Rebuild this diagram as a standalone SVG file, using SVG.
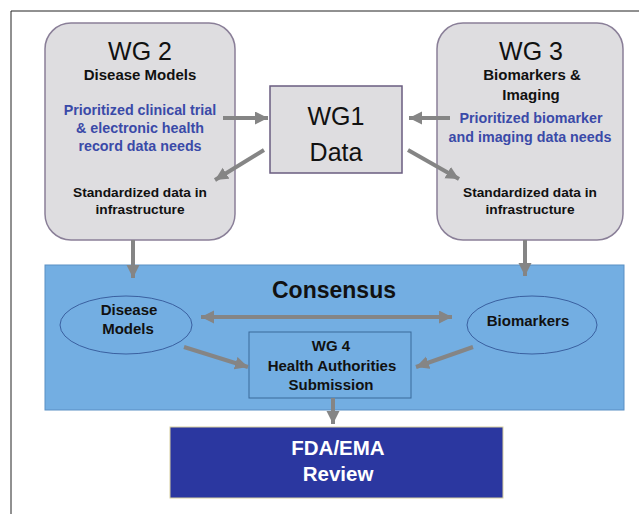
<svg xmlns="http://www.w3.org/2000/svg" width="639" height="514" viewBox="0 0 639 514">
<style>
text{font-family:"Liberation Sans",Arial,sans-serif;font-weight:bold;text-anchor:middle;fill:#111}
.big{font-size:25px;font-weight:normal}
.t{font-size:15px}
.s{font-size:13.7px}
.b{fill:#3a4aa8;font-size:14.3px}
.w{fill:#fff;font-size:20.5px}
.wg{fill:#dedde0;stroke:#8a7f98;stroke-width:1.5}
.c{stroke:#858585;stroke-width:4;fill:none;marker-end:url(#ah)}
</style>
<defs>
<marker id="ah" markerUnits="userSpaceOnUse" markerWidth="16" markerHeight="14" refX="13" refY="6.5" orient="auto-start-reverse" viewBox="0 0 16 14">
<path d="M0,0 L13,6.5 L0,13 Z" fill="#858585"/>
</marker>
</defs>
<rect x="0" y="0" width="639" height="514" fill="#fff"/>
<path d="M11,514 V11 H639" fill="none" stroke="#222" stroke-width="1"/>
<g id="wg2">
<rect class="wg" x="45" y="23" width="190" height="217" rx="26"/>
<text class="big" x="140" y="60">WG 2</text>
<text class="t" x="140" y="80">Disease Models</text>
<text class="b" x="140" y="115">Prioritized clinical trial</text>
<text class="b" x="140" y="133">&amp; electronic health</text>
<text class="b" x="140" y="151">record data needs</text>
<text class="s" x="140" y="197">Standardized data in</text>
<text class="s" x="140" y="214">infrastructure</text>
</g>
<g id="wg3">
<rect class="wg" x="437" y="23" width="186" height="217" rx="26"/>
<text class="big" x="531" y="60">WG 3</text>
<text class="t" x="532" y="80">Biomarkers &amp;</text>
<text class="t" x="531" y="100">Imaging</text>
<text class="b" x="531" y="123">Prioritized biomarker</text>
<text class="b" x="530" y="142">and imaging data needs</text>
<text class="s" x="530" y="197">Standardized data in</text>
<text class="s" x="530" y="214">infrastructure</text>
</g>
<g id="wg1">
<rect x="270" y="86" width="132" height="87" fill="#dedde0" stroke="#6a5c80" stroke-width="1.5"/>
<text class="big" x="336" y="125">WG1</text>
<text class="big" x="336" y="161">Data</text>
</g>
<g id="consensus">
<rect x="45" y="265" width="579" height="145" fill="#73aee2" stroke="#5a8fc4" stroke-width="1"/>
<text x="334" y="298" font-size="23">Consensus</text>
</g>
<g id="disease-models">
<ellipse cx="126" cy="325" rx="66" ry="29" fill="#73aee2" stroke="#3a60a0" stroke-width="1"/>
<text class="t" x="129" y="315">Disease</text>
<text class="t" x="128" y="334">Models</text>
</g>
<g id="biomarkers">
<ellipse cx="532" cy="325" rx="65" ry="29" fill="#73aee2" stroke="#3a60a0" stroke-width="1"/>
<text class="t" x="528" y="326" font-size="15.5">Biomarkers</text>
</g>
<g id="wg4">
<rect x="249" y="332" width="162" height="66" fill="#73aee2" stroke="#3a6a9a" stroke-width="1"/>
<text class="t" x="331" y="351">WG 4</text>
<text class="t" x="332" y="371" font-size="15.5">Health Authorities</text>
<text class="t" x="331" y="390">Submission</text>
</g>
<g id="fda">
<rect x="170" y="427" width="333" height="71" fill="#2b37a0" stroke="#d8d0a0" stroke-width="1"/>
<text class="w" x="338" y="455">FDA/EMA</text>
<text class="w" x="338" y="481">Review</text>
</g>
<g id="connectors">
<line class="c" x1="223" y1="118" x2="268" y2="118"/>
<line class="c" x1="264" y1="150" x2="215" y2="180"/>
<line class="c" x1="450" y1="118" x2="409" y2="118"/>
<line class="c" x1="408" y1="150" x2="459" y2="179"/>
<line class="c" x1="133" y1="240" x2="133" y2="278"/>
<line class="c" x1="525" y1="240" x2="525" y2="276"/>
<line class="c" x1="201" y1="317" x2="452" y2="317" marker-start="url(#ah)"/>
<line class="c" x1="184" y1="347" x2="248" y2="367"/>
<line class="c" x1="473" y1="347" x2="416" y2="367"/>
<line class="c" x1="333" y1="398" x2="333" y2="424"/>
</g>
</svg>
